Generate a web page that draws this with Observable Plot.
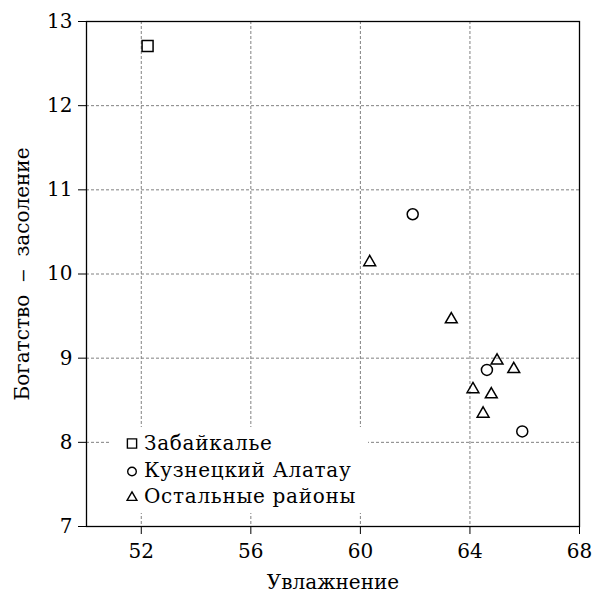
<!DOCTYPE html>
<html>
<head>
<meta charset="utf-8">
<script src="https://cdn.jsdelivr.net/npm/d3@7"></script>
<script src="https://cdn.jsdelivr.net/npm/@observablehq/plot@0.6"></script>
<style>
  html, body { margin: 0; padding: 0; background: white; }
  #wrap { position: relative; width: 592px; height: 594px; font-family: "DejaVu Serif", serif; }
  #legend { position: absolute; left: 111px; top: 427px; width: 257px; height: 86px; background: white; }
  .row { position: absolute; left: 0; height: 26px; width: 257px; }
  .row svg { position: absolute; left: 14px; top: 0; }
  .row span { position: absolute; left: 33px; top: 2px; font-size: 20px; letter-spacing: 0.7px; color: black; white-space: nowrap; line-height: 1; }
</style>
</head>
<body>
<div id="wrap"></div>
<script>
// ---- data ----
const groups = ["Забайкалье", "Кузнецкий Алатау", "Остальные районы"];
const zabX = [52.23];
const zabY = [12.71];
const kuzX = [61.91, 64.62, 65.91];
const kuzY = [10.71, 8.86, 8.13];
const othX = [60.34, 63.32, 64.99, 65.60, 64.11, 64.78, 64.48];
const othY = [10.14, 9.46, 8.97, 8.87, 8.63, 8.57, 8.34];
const xTicks = [52, 56, 60, 64, 68];
const yTicks = [7, 8, 9, 10, 11, 12, 13];

const toRows = (xs, ys) => xs.map((x, i) => ({x, y: ys[i]}));
const zab = toRows(zabX, zabY);
const kuz = toRows(kuzX, kuzY);
const oth = toRows(othX, othY);

const chart = Plot.plot({
  width: 592,
  height: 594,
  marginLeft: 86,
  marginRight: 13,
  marginTop: 21,
  marginBottom: 68,
  style: {fontFamily: "DejaVu Serif", fontSize: "20px", color: "black", background: "white"},
  x: {domain: [50, 68]},
  y: {domain: [7, 13]},
  marks: [
    Plot.gridX(xTicks.filter(d => d > 50 && d < 68), {stroke: "#808080", strokeOpacity: 1, strokeDasharray: "3,2"}),
    Plot.gridY(yTicks.filter(d => d > 7 && d < 13), {stroke: "#808080", strokeOpacity: 1, strokeDasharray: "3,2"}),
    Plot.axisX({ticks: xTicks, tickFormat: d => String(d), tickSize: 8, tickPadding: 9, stroke: "black", label: "Увлажнение", labelAnchor: "center", labelArrow: "none", labelOffset: 62, fontSize: 20}),
    Plot.axisY({ticks: yTicks, tickFormat: d => String(d), tickSize: 8, tickPadding: 6, stroke: "black", label: "Богатство\u00A0\u00A0\u2012\u00A0\u00A0засоление", labelAnchor: "center", labelArrow: "none", labelOffset: 72, fontSize: 20}),
    Plot.frame({stroke: "black", strokeWidth: 1.3}),
    Plot.dot(zab, {x: "x", y: "y", symbol: "square", r: 6.2, stroke: "black", strokeWidth: 1.5, fill: "none"}),
    Plot.dot(kuz, {x: "x", y: "y", symbol: "circle", r: 5.5, stroke: "black", strokeWidth: 1.5, fill: "none"}),
    Plot.dot(oth, {x: "x", y: "y", symbol: "triangle", r: 4.4, stroke: "black", strokeWidth: 1.5, fill: "none"})
  ]
});

const wrap = document.getElementById("wrap");
wrap.appendChild(chart);

// ---- legend (HTML overlay) ----
const legend = document.createElement("div");
legend.id = "legend";
const syms = [d3.symbol(d3.symbolSquare, 85)(), d3.symbol(d3.symbolCircle, 58)(), d3.symbol(d3.symbolTriangle, 42)()];
const rowTops = [4, 30.5, 56.5];
groups.forEach((g, i) => {
  const row = document.createElement("div");
  row.className = "row";
  row.style.top = rowTops[i] + "px";
  row.innerHTML = `<svg width="14" height="26" viewBox="-7 -13 14 26" style="overflow:visible"><path d="${syms[i]}" transform="translate(0,${i === 0 ? -0.5 : 0.5})" fill="none" stroke="black" stroke-width="1.4"/></svg><span>${g}</span>`;
  legend.appendChild(row);
});
wrap.appendChild(legend);
</script>
</body>
</html>
